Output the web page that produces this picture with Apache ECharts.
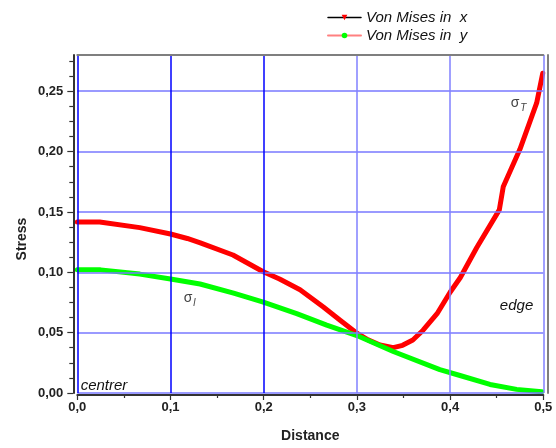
<!DOCTYPE html>
<html><head><meta charset="utf-8">
<script src="https://cdn.jsdelivr.net/npm/echarts@6/dist/echarts.min.js"></script>
<style>html,body{margin:0;padding:0;background:#fff}#c{width:556px;height:448px}</style>
</head><body><div id="c"></div>
<script>
// ---- data ----
const seriesNames = ['Von Mises in  x', 'Von Mises in  y'];
const distanceX = [0, 0.024, 0.067, 0.1, 0.118, 0.132, 0.167, 0.199, 0.217, 0.239, 0.264, 0.282, 0.3, 0.312, 0.3248, 0.339, 0.349, 0.36, 0.371, 0.386, 0.4, 0.411, 0.4285, 0.4528, 0.457, 0.475, 0.4929, 0.4994];
const stressX   = [0.1416, 0.1416, 0.137, 0.1317, 0.128, 0.1244, 0.1143, 0.1007, 0.0944, 0.0855, 0.0712, 0.0603, 0.0495, 0.044, 0.0398, 0.0376, 0.0395, 0.0439, 0.052, 0.0657, 0.0835, 0.0957, 0.1203, 0.1517, 0.1708, 0.2021, 0.2403, 0.2649];
const distanceY = [0, 0.025, 0.067, 0.1, 0.1317, 0.1677, 0.1996, 0.2354, 0.2676, 0.3, 0.339, 0.389, 0.4106, 0.4428, 0.4714, 0.4983];
const stressY   = [0.102, 0.102, 0.0985, 0.0944, 0.0903, 0.0827, 0.0753, 0.0657, 0.0562, 0.0476, 0.0344, 0.0194, 0.0145, 0.0071, 0.003, 0.001];
const xTickValues = [0, 0.1, 0.2, 0.3, 0.4, 0.5];
const yTickValues = [0, 0.05, 0.1, 0.15, 0.2, 0.25];
const yMinorTickValues = [0.0125, 0.025, 0.0375, 0.0625, 0.075, 0.0875, 0.1125, 0.125, 0.1375, 0.1625, 0.175, 0.1875, 0.2125, 0.225, 0.2375, 0.2625, 0.275];
const xAxisTitle = 'Distance';
const yAxisTitle = 'Stress';
const annotations = [
  {text: '{s|σ}{sub|T}', x: 0.4735, y: 0.24},
  {text: '{s|σ}{sub|l}', x: 0.1205, y: 0.0784},
  {text: '{i|edge}', x: 0.4713, y: 0.0719},
  {text: '{i|centrer}', x: 0.0036, y: 0.0063, left: true}
];

// ---- chart ----
const FF = "'Liberation Sans', Arial, sans-serif";
const chart = echarts.init(document.getElementById('c'), null, {renderer: 'canvas'});
const zip = (a, b) => a.map((v, i) => [v, b[i]]);

const option = {
  animation: false,
  backgroundColor: '#ffffff',
  grid: {left: 77.3, right: 12.7, top: 55, bottom: 51.3, containLabel: false},
  legend: {
    orient: 'vertical', left: 322, top: 5, itemWidth: 33, itemHeight: 7, itemGap: 3,
    textStyle: {fontFamily: FF, fontStyle: 'italic', fontSize: 15, color: '#111'},
    data: [
      {name: seriesNames[0], itemStyle: {color: '#ff0000'}, lineStyle: {color: '#000000', width: 1.5}},
      {name: seriesNames[1], itemStyle: {color: '#00ff00'}, lineStyle: {color: '#ff8080', width: 2}}
    ]
  },
  xAxis: [
    {
      type: 'value', min: 0, max: 0.5, interval: 0.1, position: 'bottom', offset: 2,
      name: xAxisTitle, nameLocation: 'middle', nameGap: 34,
      nameTextStyle: {fontFamily: FF, fontWeight: 'bold', fontSize: 14, color: '#222'},
      axisLine: {show: true, onZero: false, lineStyle: {color: '#333', width: 2}},
      axisTick: {show: true, length: 5, lineStyle: {color: '#333', width: 1.2}},
      minorTick: {show: true, splitNumber: 2, length: 3, lineStyle: {color: '#333', width: 1.2}},
      axisLabel: {fontFamily: FF, fontWeight: 'bold', fontSize: 13, color: '#222', margin: 6,
        formatter: v => v.toFixed(1).replace('.', ',')},
      splitLine: {show: true, lineStyle: {color: ['#0000ff', '#0000ff', '#0000ff', '#8080ff', '#8080ff', '#8080ff'], width: 1.5}},
      z: 3
    },
    {
      type: 'value', min: 0, max: 0.5, position: 'top', offset: 0,
      axisLine: {show: true, onZero: false, lineStyle: {color: '#7f7f7f', width: 2}},
      axisTick: {show: false}, axisLabel: {show: false}, splitLine: {show: false}, z: 4
    }
  ],
  yAxis: [
    {
      type: 'value', min: 0, max: 0.28, interval: 0.05, position: 'left', offset: 4,
      axisLine: {show: true, onZero: false, lineStyle: {color: '#333', width: 2}},
      axisTick: {show: true, length: 6, customValues: yTickValues, lineStyle: {color: '#333', width: 1.2}},
      axisLabel: {fontFamily: FF, fontWeight: 'bold', fontSize: 13, color: '#222', margin: 10,
        customValues: yTickValues, formatter: v => v.toFixed(2).replace('.', ',')},
      splitLine: {show: true, lineStyle: {color: '#7878ff', width: 1.5}},
      z: 3
    },
    {
      type: 'value', min: 0, max: 0.28, position: 'left', offset: 4,
      axisLine: {show: false, onZero: false},
      axisTick: {show: true, length: 4, customValues: yMinorTickValues, lineStyle: {color: '#333', width: 1.2}},
      axisLabel: {show: false}, splitLine: {show: false}, z: 3
    },
    {
      type: 'value', min: 0, max: 0.28, position: 'right', offset: 4,
      axisLine: {show: true, onZero: false, lineStyle: {color: '#7f7f7f', width: 2}},
      axisTick: {show: false}, axisLabel: {show: false}, splitLine: {show: false}, z: 4
    }
  ],
  series: [
    {
      name: seriesNames[0], type: 'line', xAxisIndex: 0, yAxisIndex: 0,
      data: zip(distanceX, stressX), showSymbol: false,
      symbol: 'path://M0,0L10,0L5,10Z', symbolSize: 5,
      lineStyle: {color: '#ff0000', width: 5, join: 'round', cap: 'round'},
      itemStyle: {color: '#ff0000'}, z: 2
    },
    {
      name: seriesNames[1], type: 'line', xAxisIndex: 0, yAxisIndex: 0,
      data: zip(distanceY, stressY), showSymbol: false,
      symbol: 'circle', symbolSize: 5,
      lineStyle: {color: '#00ff00', width: 5, join: 'round', cap: 'round'},
      itemStyle: {color: '#00ff00'}, z: 2
    }
  ]
};
chart.setOption(option);

const graphics = [{
  type: 'text', x: 22, y: 239, rotation: Math.PI / 2,
  style: {text: yAxisTitle, font: "bold 14px " + FF, fill: '#222', align: 'center', verticalAlign: 'middle'}
}];
annotations.forEach(a => {
  const p = chart.convertToPixel({xAxisIndex: 0, yAxisIndex: 0}, [a.x, a.y]);
  graphics.push({
    type: 'text', x: p[0], y: p[1],
    style: {
      text: a.text, align: a.left ? 'left' : 'center', verticalAlign: 'middle',
      rich: {
        s: {fontFamily: FF, fontSize: 14, fill: '#444', fontStyle: 'normal'},
        sub: {fontFamily: FF, fontSize: 10, fill: '#444', fontStyle: 'italic', verticalAlign: 'bottom', padding: [10, 0, 0, 1]},
        i: {fontFamily: FF, fontSize: 15, fill: '#111', fontStyle: 'italic'}
      }
    }
  });
});
chart.setOption({graphic: graphics});
</script>
</body></html>
